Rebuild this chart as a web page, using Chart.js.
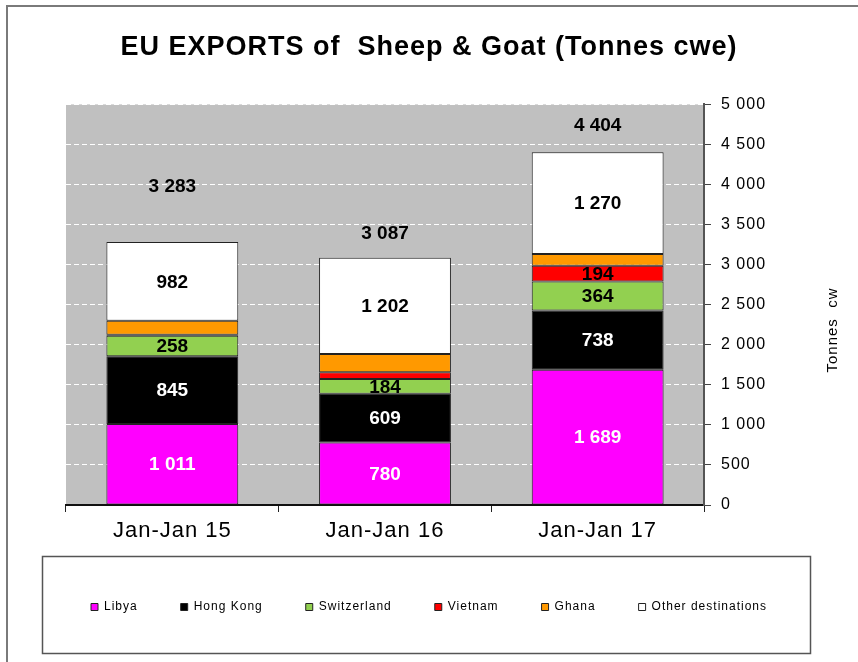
<!DOCTYPE html>
<html>
<head>
<meta charset="utf-8">
<script src="https://cdn.jsdelivr.net/npm/chart.js@4.4.1/dist/chart.umd.min.js"></script>
<style>
html,body{margin:0;padding:0;background:#fff}
canvas{display:block}
</style>
</head>
<body>
<canvas id="c" width="858" height="662"></canvas>
<script>
// ---- data ----
const categories = ['Jan-Jan 15', 'Jan-Jan 16', 'Jan-Jan 17'];
const seriesNames = ['Libya', 'Hong Kong', 'Switzerland', 'Vietnam', 'Ghana', 'Other destinations'];
const libya = [1011, 780, 1689];
const hongKong = [845, 609, 738];
const switzerland = [258, 184, 364];
const vietnam = [10, 85, 194];
const ghana = [177, 227, 149];
const otherDestinations = [982, 1202, 1270];
const totals = [3283, 3087, 4404];
const yTickValues = [0, 500, 1000, 1500, 2000, 2500, 3000, 3500, 4000, 4500, 5000];
const titleText = 'EU EXPORTS of  Sheep & Goat (Tonnes cwe)';
const yAxisTitle = 'Tonnes  cw';

// ---- helpers ----
const fmt = v => String(v).replace(/\B(?=(\d{3})+(?!\d))/g, ' ');
const FONT = 'Arial, "Liberation Sans", sans-serif';

const seriesValues = [libya, hongKong, switzerland, vietnam, ghana, otherDestinations];
const seriesColors = ['#FF00FF', '#000000', '#92D050', '#FF0000', '#FF9900', '#FFFFFF'];
const labelColors = ['#FFFFFF', '#FFFFFF', '#000000', '#000000', null, '#000000'];

const datasets = seriesNames.map((name, i) => ({
  label: name,
  data: seriesValues[i],
  backgroundColor: seriesColors[i],
  borderColor: '#222222',
  borderWidth: 1,
  borderSkipped: false,
  labelColor: labelColors[i]
}));

const spacingPlugin = {
  id: 'spacing',
  beforeUpdate(c) { c.ctx.letterSpacing = '1px'; },
  beforeLayout(c) { c.ctx.letterSpacing = '1px'; },
  beforeDraw(c) { c.ctx.letterSpacing = '1px'; }
};

const plotBg = {
  id: 'plotBg',
  beforeDraw(c) {
    const {ctx, chartArea: a} = c;
    ctx.save();
    ctx.fillStyle = '#C0C0C0';
    ctx.fillRect(a.left, a.top, a.right - a.left, a.bottom - a.top);
    ctx.restore();
  }
};

const labelsPlugin = {
  id: 'barLabels',
  afterDatasetsDraw(c, args, opts) {
    const ctx = c.ctx;
    ctx.save();
    ctx.letterSpacing = '0px';
    ctx.font = 'bold 19px "Liberation Sans Narrow", "Arial Narrow", Arial, sans-serif';
    ctx.textAlign = 'center';
    ctx.textBaseline = 'middle';
    c.data.datasets.forEach((ds, i) => {
      if (!ds.labelColor) return;
      const meta = c.getDatasetMeta(i);
      meta.data.forEach((el, j) => {
        const v = ds.data[j];
        if (v < 100) return;
        ctx.fillStyle = ds.labelColor;
        ctx.fillText(fmt(v), el.x, (el.y + el.base) / 2 + 1);
      });
    });
    // totals above the bars
    const y = c.scales.y;
    const meta0 = c.getDatasetMeta(0);
    ctx.fillStyle = '#000';
    totals.forEach((t, j) => {
      ctx.fillText(fmt(t), meta0.data[j].x, y.getPixelForValue(t) - opts.lift[j]);
    });
    ctx.restore();
  }
};

const decoPlugin = {
  id: 'deco',
  afterDraw(c) {
    const ctx = c.ctx;
    ctx.save();
    ctx.letterSpacing = '0px';
    // legend frame
    const L = c.legend;
    ctx.strokeStyle = '#555';
    ctx.lineWidth = 1.5;
    ctx.strokeRect(42.5, L.top + 0.5, 768, 97);
    // outer frame
    ctx.strokeStyle = '#7a7a7a';
    ctx.lineWidth = 2;
    ctx.strokeRect(7, 6, 1000, 1000);
    // rotated axis title (reads bottom to top)
    ctx.fillStyle = '#000';
    ctx.font = '15px ' + FONT;
    ctx.letterSpacing = '1px';
    ctx.textAlign = 'center';
    ctx.textBaseline = 'middle';
    ctx.translate(833, 330);
    ctx.rotate(-Math.PI / 2);
    ctx.fillText(yAxisTitle, 0, 0);
    ctx.restore();
  }
};

new Chart(document.getElementById('c'), {
  type: 'bar',
  data: { labels: categories, datasets },
  options: {
    responsive: false,
    animation: false,
    devicePixelRatio: 1,
    layout: { padding: { left: 0, right: 0, top: 0, bottom: 39 } },
    datasets: { bar: { barPercentage: 0.62, categoryPercentage: 1.0 } },
    plugins: {
      title: {
        display: true,
        text: titleText,
        color: '#000',
        font: { family: FONT, size: 27, weight: 'bold' },
        padding: { top: 31, bottom: 41 }
      },
      legend: {
        position: 'bottom',
        title: { display: true, text: ' ', font: { size: 1, lineHeight: 2 }, padding: 0 },
        labels: {
          boxWidth: 7, boxHeight: 7, padding: 43, color: '#000',
          font: { family: FONT, size: 12 }
        }
      },
      tooltip: { enabled: false },
      barLabels: { lift: [55, 24, 26] }
    },
    scales: {
      x: {
        stacked: true,
        offset: true,
        grid: { display: true, drawOnChartArea: false, offset: true, tickLength: 7, color: '#222', tickColor: '#222' },
        border: { display: true, color: '#111', width: 2 },
        ticks: { color: '#000', font: { family: FONT, size: 22 }, padding: 6 },
        afterFit(s) { s.height = 51; }
      },
      y: {
        stacked: true,
        position: 'right',
        min: 0,
        max: 5000,
        afterBuildTicks(s) { s.ticks = yTickValues.map(v => ({ value: v })); },
        grid: { color: '#FFFFFF', lineWidth: 1, tickLength: 7, tickColor: '#444', tickBorderDash: [] },
        border: { display: true, color: '#555', width: 2, dash: [5, 3] },
        ticks: { color: '#000', font: { family: FONT, size: 16 }, padding: 10, callback: v => fmt(v) },
        afterFit(s) { s.width = 154; }
      },
      yL: {
        type: 'linear',
        position: 'left',
        display: true,
        grid: { display: false, drawTicks: false },
        border: { display: false },
        ticks: { display: false },
        afterFit(s) { s.width = 66; }
      }
    }
  },
  plugins: [spacingPlugin, plotBg, labelsPlugin, decoPlugin]
});
</script>
</body>
</html>
